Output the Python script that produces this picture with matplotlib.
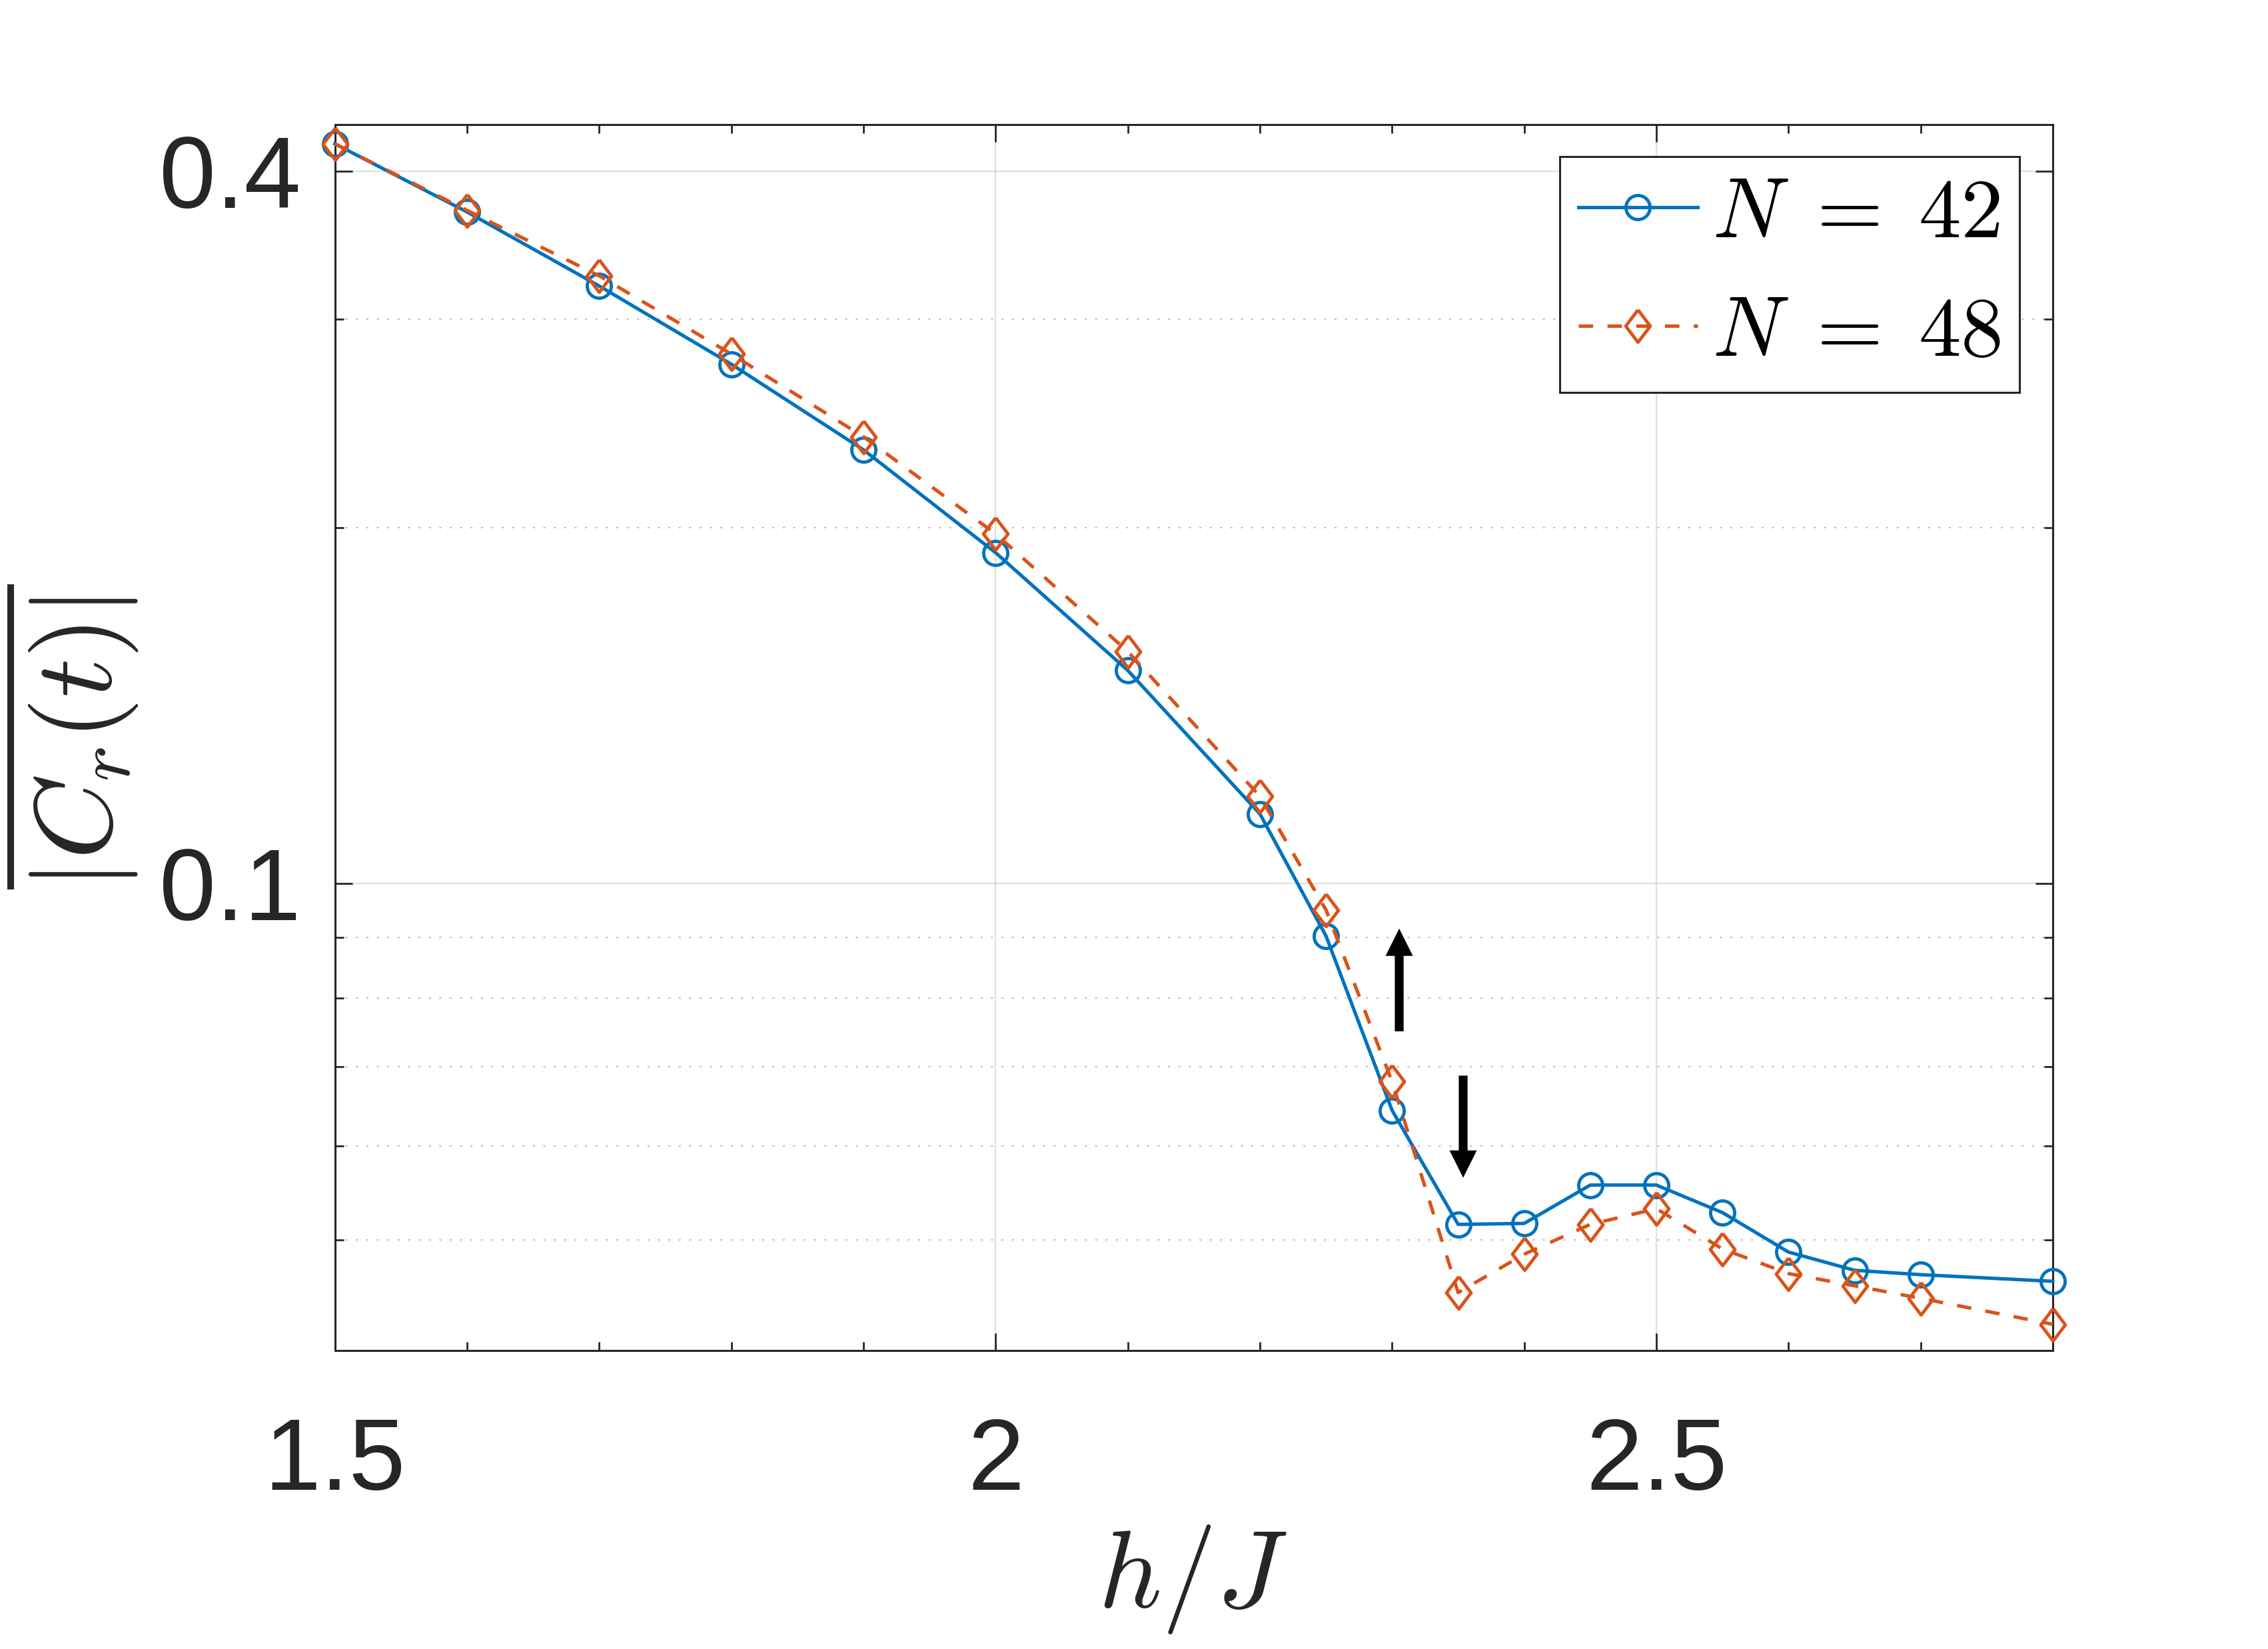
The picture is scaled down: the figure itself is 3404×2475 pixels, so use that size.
import matplotlib
matplotlib.use('Agg')
import matplotlib.pyplot as plt
from matplotlib.ticker import FixedLocator, FixedFormatter, MultipleLocator, NullFormatter

# ---- data ----
h_J = [1.5, 1.6, 1.7, 1.8, 1.9, 2.0, 2.1, 2.2, 2.25, 2.3, 2.35, 2.4, 2.45, 2.5, 2.55, 2.6, 2.65, 2.7, 2.8]
C_N42 = [0.422, 0.3696, 0.320, 0.2748, 0.2326, 0.1904, 0.1514, 0.1145, 0.0903, 0.0643,
         0.0515, 0.0516, 0.0556, 0.0556, 0.0527, 0.0488, 0.0471, 0.0467, 0.0461]
C_N48 = [0.422, 0.3707, 0.3264, 0.2803, 0.2386, 0.1975, 0.1571, 0.1185, 0.0950, 0.0680,
         0.0451, 0.0486, 0.0515, 0.0531, 0.0491, 0.0468, 0.0457, 0.0446, 0.0424]
labels = [r'$N\;=\;42$', r'$N\;=\;48$']

x_ticks = [1.5, 2.0, 2.5]
x_ticklabels = ['1.5', '2', '2.5']
y_ticks = [0.1, 0.4]
y_ticklabels = ['0.1', '0.4']
y_minor = [0.05, 0.06, 0.07, 0.08, 0.09, 0.2, 0.3]

# arrows (tail, tip)
arrow_up = [(2.3054, 0.0750), (2.3054, 0.0916)]
arrow_down = [(2.3538, 0.0688), (2.3538, 0.0564)]

plt.rcParams['mathtext.fontset'] = 'cm'
plt.rcParams['font.family'] = ['Liberation Sans', 'DejaVu Sans']

AX = '#262626'
BLUE = '#0072BD'
ORANGE = '#D95319'

fig = plt.figure(figsize=(34.04, 24.75), dpi=100)
ax = fig.add_axes([502.7/3404, 1-2027/2475, 2578.3/3404, 1840.3/2475])

ax.plot(h_J, C_N42, '-', color=BLUE, lw=3.7, marker='o', ms=26, mfc='none', mew=3.5,
        clip_on=False, zorder=3, label=labels[0])
diamond = [(0, 1), (0.76, 0), (0, -1), (-0.76, 0), (0, 1)]
ax.plot(h_J, C_N48, color=ORANGE, lw=3.7, ls=(0, (4.2, 4.2)), marker=diamond, ms=35, mfc='none',
        mew=3.5, clip_on=False, zorder=3, label=labels[1])

ax.set_yscale('log')
ax.set_xlim(1.5, 2.8)
ax.set_ylim(0.04029, 0.4383)

ax.xaxis.set_major_locator(FixedLocator(x_ticks))
ax.xaxis.set_major_formatter(FixedFormatter(x_ticklabels))
ax.xaxis.set_minor_locator(MultipleLocator(0.1))
ax.yaxis.set_major_locator(FixedLocator(y_ticks))
ax.yaxis.set_major_formatter(FixedFormatter(y_ticklabels))
ax.yaxis.set_minor_locator(FixedLocator(y_minor))
ax.yaxis.set_minor_formatter(NullFormatter())

ax.tick_params(which='both', direction='in', top=True, right=True, color=AX, labelcolor=AX)
ax.tick_params(which='major', length=19, width=2, labelsize=110)
ax.tick_params(which='minor', length=9.5, width=2)
ax.tick_params(axis='x', which='major', pad=71)
ax.tick_params(axis='y', which='major', pad=37)

for s in ax.spines.values():
    s.set_color(AX)
    s.set_linewidth(2.2)

ax.grid(True, which='major', color=AX, alpha=0.15, lw=1.5)
ax.yaxis.grid(True, which='minor', color=AX, alpha=0.3, lw=1.5, ls=(0, (1.5, 6)))
ax.set_axisbelow(True)

for tail, tip in (arrow_up, arrow_down):
    ax.annotate('', xy=tip, xytext=tail, xycoords='data',
                arrowprops=dict(arrowstyle='simple,head_length=2.95,head_width=2.95,tail_width=0.95',
                                mutation_scale=10, color='black', lw=0, shrinkA=0, shrinkB=0))

ax.set_xlabel(r'$h/J$', fontsize=119, color=AX)
ax.xaxis.set_label_coords(0.4993, -0.1864)
ax.xaxis.label.set_va('center')
ax.set_ylabel(r'$\overline{|C_r(t)|}$', fontsize=118, color=AX)
ax.yaxis.set_label_coords(-0.1542, 0.5005)
ax.yaxis.label.set_va('center')

leg = ax.legend(loc='upper right', bbox_to_anchor=(0.9806, 0.9738), borderaxespad=0,
                fontsize=92, handlelength=1.4, handletextpad=0.17, borderpad=0.22,
                labelspacing=0.45, fancybox=False, framealpha=1, edgecolor=AX)
leg.get_frame().set_linewidth(2.2)

fig.savefig('out.png', dpi=100, facecolor='white')
